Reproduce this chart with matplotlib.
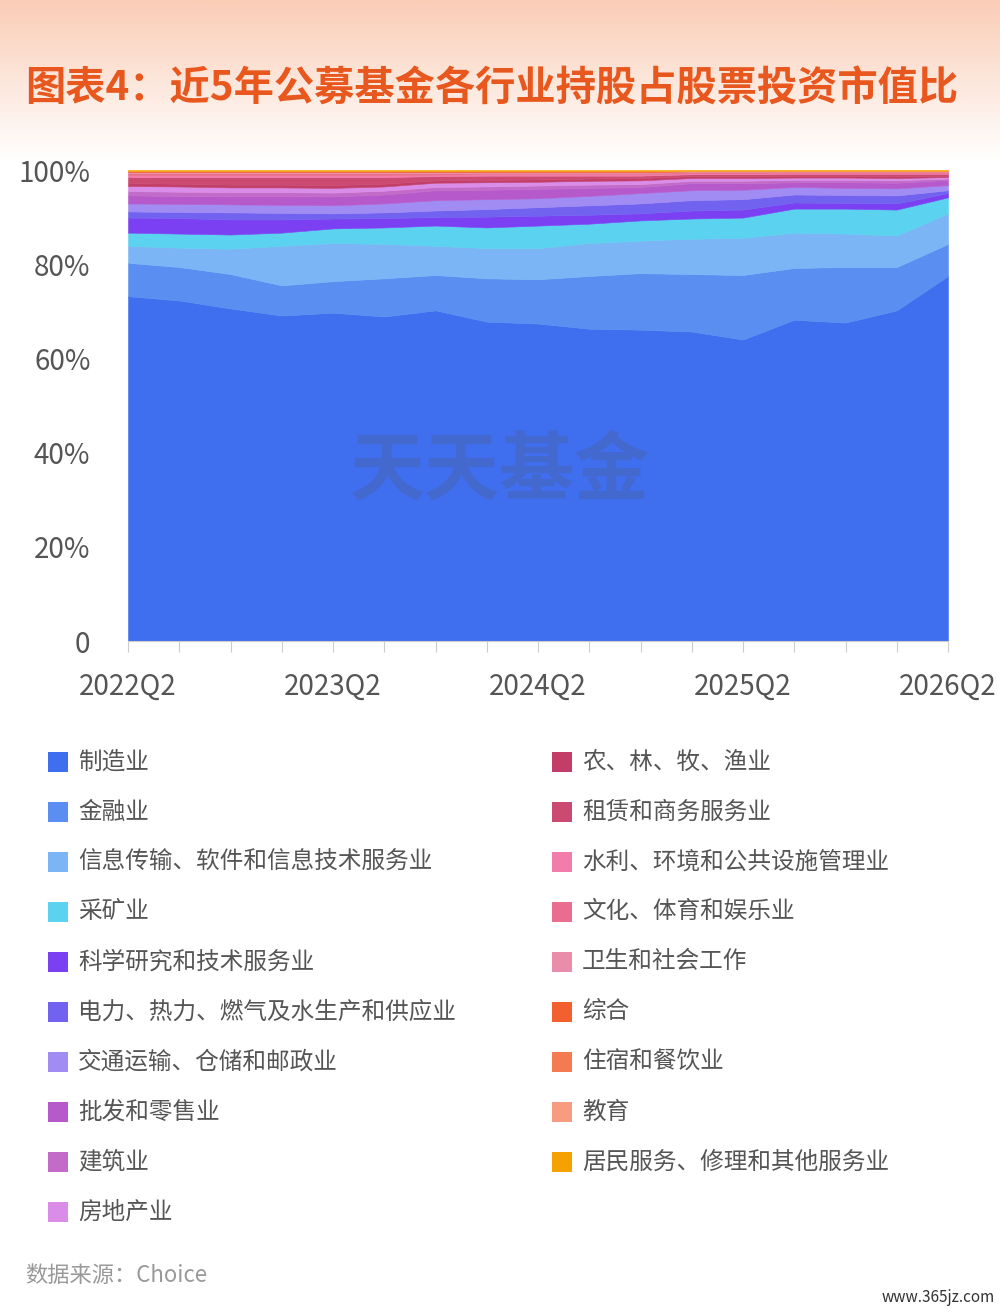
import matplotlib
matplotlib.use("Agg")
import matplotlib.pyplot as plt
import numpy as np
from matplotlib.patches import Rectangle

plt.rcParams['font.family'] = ['Noto Sans CJK SC', 'DejaVu Sans']

# quarters 2022Q2 .. 2026Q2
quarters = ['2022Q2', '2022Q3', '2022Q4', '2023Q1', '2023Q2', '2023Q3', '2023Q4', '2024Q1',
            '2024Q2', '2024Q3', '2024Q4', '2025Q1', '2025Q2', '2025Q3', '2025Q4', '2026Q1', '2026Q2']

# share of stock holdings by industry (%)
manufacturing = [73.2, 72.3, 70.6, 69.1, 69.7, 68.9, 70.2, 67.8, 67.4, 66.3, 66.1, 65.7, 64.0, 68.2, 67.6, 70.2, 77.5]
finance = [7.1, 7.1, 7.3, 6.4, 6.7, 8.1, 7.5, 9.2, 9.4, 11.2, 12.0, 12.2, 13.7, 11.0, 11.8, 9.2, 6.8]
info_tech = [3.6, 4.1, 5.4, 8.4, 8.1, 7.3, 6.2, 6.4, 6.6, 7.0, 6.9, 7.5, 7.9, 7.5, 7.1, 6.7, 6.5]
mining = [2.8, 3.0, 3.0, 2.8, 3.1, 3.5, 4.3, 4.4, 4.8, 4.1, 4.3, 4.3, 4.3, 5.1, 5.3, 5.5, 3.4]
research = [3.2, 3.3, 3.2, 2.8, 2.1, 2.0, 1.8, 2.3, 2.1, 1.9, 1.5, 1.7, 1.7, 1.3, 1.2, 1.3, 0.9]
utilities = [1.3, 1.3, 1.5, 1.4, 1.1, 1.2, 1.4, 1.6, 1.8, 2.0, 2.1, 2.2, 2.2, 1.7, 1.7, 1.7, 0.6]
transport = [1.7, 1.7, 1.7, 1.7, 1.7, 1.9, 2.2, 2.1, 1.9, 2.0, 2.2, 2.1, 2.0, 1.6, 1.5, 1.5, 1.1]
wholesale = [1.7, 1.7, 1.7, 1.8, 1.9, 1.9, 2.1, 2.0, 2.0, 1.7, 1.3, 1.5, 1.4, 1.0, 1.2, 1.2, 1.1]
construction = [0.9, 0.9, 0.9, 0.9, 0.8, 0.8, 0.7, 0.7, 0.7, 0.7, 0.6, 0.5, 0.5, 0.5, 0.5, 0.5, 0.3]
real_estate = [1.1, 1.1, 1.0, 1.0, 1.0, 0.9, 0.9, 0.9, 0.8, 0.8, 0.8, 0.6, 0.6, 0.5, 0.5, 0.5, 0.3]
agriculture = [0.6, 0.6, 0.6, 0.6, 0.6, 0.6, 0.5, 0.5, 0.5, 0.5, 0.5, 0.4, 0.4, 0.4, 0.4, 0.4, 0.3]
leasing = [1.3, 1.4, 1.6, 1.6, 1.7, 1.4, 0.9, 0.9, 0.8, 0.6, 0.5, 0.4, 0.4, 0.4, 0.4, 0.5, 0.4]
water_env = [0.4, 0.4, 0.4, 0.4, 0.4, 0.4, 0.3, 0.3, 0.3, 0.3, 0.3, 0.2, 0.2, 0.2, 0.2, 0.2, 0.2]
culture = [0.4, 0.4, 0.4, 0.4, 0.4, 0.4, 0.3, 0.3, 0.3, 0.3, 0.3, 0.2, 0.2, 0.2, 0.2, 0.2, 0.2]
health = [0.3, 0.3, 0.3, 0.3, 0.3, 0.3, 0.3, 0.2, 0.2, 0.2, 0.2, 0.2, 0.2, 0.1, 0.1, 0.1, 0.1]
conglomerate = [0.05, 0.05, 0.05, 0.05, 0.05, 0.05, 0.05, 0.05, 0.05, 0.05, 0.05, 0.05, 0.05, 0.05, 0.05, 0.05, 0.05]
hospitality = [0.1, 0.1, 0.1, 0.1, 0.1, 0.1, 0.1, 0.1, 0.1, 0.1, 0.1, 0.05, 0.05, 0.05, 0.05, 0.05, 0.05]
education = [0.05, 0.05, 0.05, 0.05, 0.05, 0.05, 0.05, 0.05, 0.05, 0.05, 0.05, 0.05, 0.05, 0.05, 0.05, 0.05, 0.05]
residents = [0.2, 0.2, 0.2, 0.2, 0.2, 0.2, 0.2, 0.2, 0.2, 0.2, 0.2, 0.15, 0.15, 0.15, 0.15, 0.15, 0.15]

names = ['制造业', '金融业', '信息传输、软件和信息技术服务业', '采矿业', '科学研究和技术服务业',
         '电力、热力、燃气及水生产和供应业', '交通运输、仓储和邮政业', '批发和零售业', '建筑业', '房地产业',
         '农、林、牧、渔业', '租赁和商务服务业', '水利、环境和公共设施管理业', '文化、体育和娱乐业',
         '卫生和社会工作', '综合', '住宿和餐饮业', '教育', '居民服务、修理和其他服务业']
series = [manufacturing, finance, info_tech, mining, research, utilities, transport, wholesale,
          construction, real_estate, agriculture, leasing, water_env, culture, health,
          conglomerate, hospitality, education, residents]
colors = ['#3F6EEE', '#5B8EF1', '#7CB5F5', '#5AD2F0', '#7B40F2', '#7163F0', '#A08CF2', '#B65ACB',
          '#C26BC9', '#DA8DE8', '#C23E69', '#CB4A72', '#F27DAA', '#E96D8E', '#E98DAB', '#F2602F',
          '#F47A52', '#F79C80', '#F5A100']

W, H = 1000, 1313
fig = plt.figure(figsize=(W / 100, H / 100), dpi=100)
fig.patch.set_facecolor('white')

# peach gradient header
bg = fig.add_axes([0, 1 - 160 / H, 1, 160 / H], zorder=-5)
grad = np.linspace(0, 1, 100).reshape(-1, 1)
top = np.array([250, 205, 182]) / 255
white = np.array([1, 1, 1])
img = top[None, None, :] * (1 - grad[:, :, None]) + white[None, None, :] * grad[:, :, None]
bg.imshow(img, aspect='auto', extent=[0, 1, 0, 1])
bg.axis('off')

fig.text(0.025, 1 - 89 / H, '图表4：近5年公募基金各行业持股占股票投资市值比',
         fontsize=29, fontweight='bold', color='#E8571E', va='center', ha='left')

ax = fig.add_axes([128 / W, 1 - 641 / H, 820 / W, 471 / H])
x = np.arange(len(quarters))
ax.stackplot(x, *series, colors=colors, linewidth=0.4, edgecolor='face')
ax.set_xlim(0, len(quarters) - 1)
ax.set_ylim(0, 100)

ax.set_xticks(x)
ax.set_xticklabels([q if i % 4 == 0 else '' for i, q in enumerate(quarters)])
ax.set_yticks([0, 20, 40, 60, 80, 100])
ax.set_yticklabels(['0', '20%', '40%', '60%', '80%', '100%'])
ax.tick_params(axis='x', direction='out', length=8, color='#cccccc', labelsize=20,
               labelcolor='#555555', pad=14)
ax.tick_params(axis='y', length=0, labelsize=20, labelcolor='#555555', pad=27)
for s in ['top', 'right', 'left']:
    ax.spines[s].set_visible(False)
ax.spines['bottom'].set_color('#cccccc')

fig.text(0.5, 1 - 472 / H, '天天基金', fontsize=54, fontweight='bold', color='#555555',
         alpha=0.2, ha='center', va='center')

# legend, two columns
for i, (name, c) in enumerate(zip(names, colors)):
    col, row = i // 10, i % 10
    x0 = 48 if col == 0 else 552
    yc = 762 + row * 50
    fig.patches.append(Rectangle((x0 / W, 1 - (yc + 10) / H), 20 / W, 20 / H,
                                 transform=fig.transFigure, facecolor=c, edgecolor='none'))
    fig.text((x0 + 30) / W, 1 - yc / H, name, fontsize=17, color='#555555',
             ha='left', va='center')

fig.text(0.025, 1 - 1275 / H, '数据来源：Choice', fontsize=16, color='#999999',
         ha='left', va='center')
fig.text(0.995, 1 - 1298 / H, 'www.365jz.com', fontsize=11, color='#333333',
         ha='right', va='center')

fig.savefig('out.png', dpi=100)
